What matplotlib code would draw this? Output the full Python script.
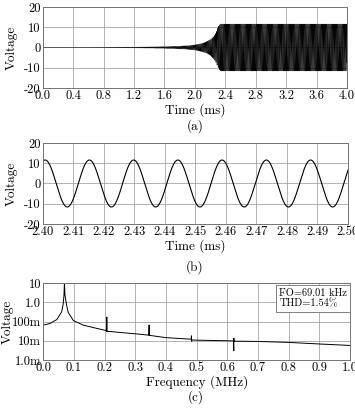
import numpy as np
import matplotlib
matplotlib.use('Agg')
import matplotlib.pyplot as plt

plt.rcParams['font.family'] = ['cmr10', 'DejaVu Serif']
plt.rcParams['mathtext.fontset'] = 'cm'
plt.rcParams['axes.unicode_minus'] = False
plt.rcParams['axes.formatter.use_mathtext'] = True

# oscillation
f0_khz = 69.01
amp = 11.6
peak_time_b = 2.4008  # ms, first crest in panel (b)

# envelope of the start-up transient, panel (a)
env_t = [0.0, 0.4, 0.8, 1.2, 1.4, 1.6, 1.8, 1.9, 2.0, 2.1, 2.15, 2.2, 2.25, 2.28, 2.3, 2.32, 2.34, 4.0]
env_v = [0.02, 0.05, 0.1, 0.2, 0.3, 0.45, 0.7, 0.9, 1.3, 2.1, 2.8, 3.8, 5.6, 7.5, 9.5, 11.0, 11.6, 11.6]

# spectrum, panel (c)
spec_f = [0.0, 0.022, 0.044, 0.060, 0.065, 0.0675, 0.069, 0.0705, 0.075, 0.081, 0.098, 0.130, 0.174,
          0.205, 0.2065, 0.207, 0.2075, 0.209, 0.25, 0.30, 0.344, 0.345, 0.3455, 0.347, 0.40,
          0.482, 0.483, 0.4835, 0.485, 0.50, 0.60, 0.620, 0.621, 0.6213, 0.6218, 0.624, 0.70, 0.80, 0.90, 1.0]
spec_v = [0.065, 0.079, 0.126, 0.32, 0.85, 2.5, 12.0, 2.5, 0.85, 0.30, 0.112, 0.065, 0.044,
          0.034, 0.031, 0.17, 0.031, 0.031, 0.027, 0.023, 0.0196, 0.065, 0.019, 0.019, 0.0145,
          0.012, 0.018, 0.0095, 0.011, 0.0107, 0.0100, 0.0098, 0.003, 0.0135, 0.0095, 0.0095, 0.0092, 0.0082, 0.0068, 0.0057]
fo_text = 'FO=69.01 kHz\nTHD=1.54%'

a_xticks = [0.0, 0.4, 0.8, 1.2, 1.6, 2.0, 2.4, 2.8, 3.2, 3.6, 4.0]
b_xticks = [2.40, 2.41, 2.42, 2.43, 2.44, 2.45, 2.46, 2.47, 2.48, 2.49, 2.50]
v_ticks = [-20, -10, 0, 10, 20]
c_xticks = [0.0, 0.1, 0.2, 0.3, 0.4, 0.5, 0.6, 0.7, 0.8, 0.9, 1.0]
c_yticks = [1e-3, 1e-2, 1e-1, 1.0, 10.0]
c_ylabels = ['1.0m', '10m', '100m', '1.0', '10']

fs = 9
gcol = '0.65'
W, H = 355.0, 411.0


def style(ax, ylab_x):
    ax.grid(True, color=gcol, lw=0.6)
    for s in ax.spines.values():
        s.set_color('0.45')
        s.set_linewidth(0.7)
    ax.tick_params(length=0, labelsize=fs, pad=1.5)
    ax.set_ylabel('Voltage', fontsize=fs + 0.5)
    # ylab_x is the right edge of the rotated label, in pixels
    bb = ax.get_position()
    ax.yaxis.set_label_coords((ylab_x / W - bb.x0) / bb.width, 0.5)


fig = plt.figure(figsize=(3.55, 4.11), dpi=100)

# (a)
ax1 = fig.add_axes([42.7 / W, 1 - 88 / H, 304.3 / W, 81 / H])
t = np.linspace(0, 4.0, 60000)
sig = np.interp(t, env_t, env_v) * np.cos(2 * np.pi * f0_khz * (t - peak_time_b))
ax1.plot(t, sig, color='black', lw=0.35)
ax1.set_xlim(0, 4.0)
ax1.set_ylim(-20, 20)
ax1.set_xticks(a_xticks)
ax1.set_xticklabels(['%.1f' % v for v in a_xticks])
ax1.set_yticks(v_ticks)
ax1.set_yticklabels([str(v) for v in v_ticks])
style(ax1, 18)
ax1.set_xlabel('Time (ms)', fontsize=fs + 0.5, labelpad=1)
fig.text(195 / W, 1 - 126 / H, '(a)', ha='center', va='center', fontsize=fs + 0.5)

# (b)
ax2 = fig.add_axes([42.7 / W, 1 - 224 / H, 305.3 / W, 81 / H])
tb = np.linspace(2.40, 2.50, 3000)
ax2.plot(tb, amp * np.cos(2 * np.pi * f0_khz * (tb - peak_time_b)), color='black', lw=0.8)
ax2.set_xlim(2.40, 2.50)
ax2.set_ylim(-20, 20)
ax2.set_xticks(b_xticks)
ax2.set_xticklabels(['%.2f' % v for v in b_xticks])
ax2.set_yticks(v_ticks)
ax2.set_yticklabels([str(v) for v in v_ticks])
style(ax2, 18)
ax2.set_xlabel('Time (ms)', fontsize=fs + 0.5, labelpad=1)
fig.text(195 / W, 1 - 267 / H, '(b)', ha='center', va='center', fontsize=fs + 0.5)

# (c)
ax3 = fig.add_axes([43.3 / W, 1 - 360 / H, 306.7 / W, 77 / H])
ax3.semilogy(spec_f, spec_v, color='black', lw=0.7)
ax3.set_xlim(0, 1.0)
ax3.set_ylim(1e-3, 10)
ax3.set_xticks(c_xticks)
ax3.set_xticklabels(['%.1f' % v for v in c_xticks])
ax3.set_yticks(c_yticks)
ax3.set_yticklabels(c_ylabels)
ax3.minorticks_off()
style(ax3, 14)
ax3.set_xlabel('Frequency (MHz)', fontsize=fs + 0.5, labelpad=1)
ax3.text(0.77, 0.93, fo_text, transform=ax3.transAxes, ha='left', va='top', fontsize=fs - 1.5,
         linespacing=1.15,
         bbox=dict(boxstyle='square,pad=0.3', fc='white', ec='0.5', lw=0.7))
fig.text(196 / W, 1 - 397 / H, '(c)', ha='center', va='center', fontsize=fs + 0.5)

fig.savefig('out.png', dpi=100)
